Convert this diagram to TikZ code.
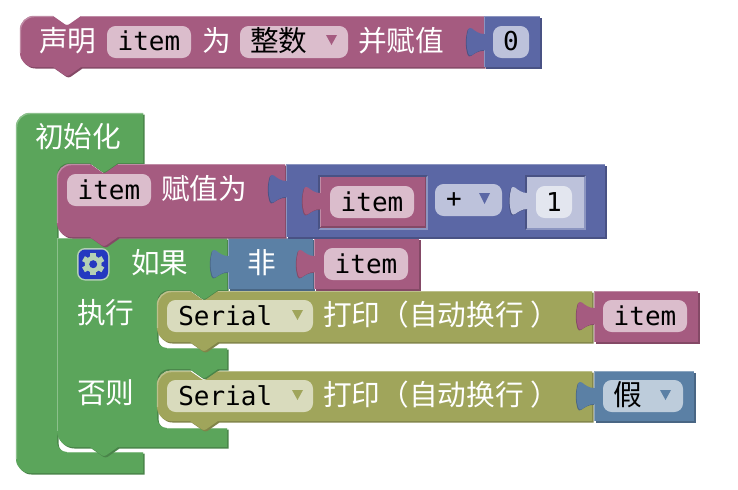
\documentclass[tikz,border=0pt]{standalone}
\usepackage{fontspec}
\setmainfont{Noto Sans CJK SC}
\newfontfamily\parenfont{Noto Sans CJK TC}
\newfontfamily\monofont{DejaVu Sans Mono}
\definecolor{mgB}{HTML}{A55B80}\definecolor{mgD}{HTML}{844966}\definecolor{mgL}{HTML}{C08CA6}\definecolor{mgF}{HTML}{DBBDCC}
\definecolor{blB}{HTML}{5B67A5}\definecolor{blD}{HTML}{495284}\definecolor{blL}{HTML}{8C95C0}\definecolor{blF}{HTML}{BDC2DB}\definecolor{blX}{HTML}{E3E6EF}
\definecolor{grB}{HTML}{5BA55B}\definecolor{grD}{HTML}{498449}\definecolor{grL}{HTML}{8CC08C}
\definecolor{olB}{HTML}{A0A55B}\definecolor{olD}{HTML}{808449}\definecolor{olL}{HTML}{BDC08C}\definecolor{olF}{HTML}{D9DBBD}
\definecolor{stB}{HTML}{5B80A5}\definecolor{stD}{HTML}{496684}\definecolor{stL}{HTML}{8CA6C0}\definecolor{stF}{HTML}{BDCCDB}
\definecolor{btn}{HTML}{2438C0}\definecolor{gearc}{HTML}{B4D0B4}
\newcommand\cjkfs{\fontsize{21.5}{21.5}\selectfont}
\newcommand\monofs{\monofont\fontsize{19.5}{19.5}\selectfont}
\tikzset{
  wlabel/.style={text=white,font=\cjkfs,anchor=west,inner sep=0pt},
  fieldtext/.style={text=black,font=\monofs,inner sep=0pt},
  cjkfield/.style={text=black,font=\cjkfs,anchor=west,inner sep=0pt},
  hl/.style={line width=1.1pt},
}
\newcommand\crn[6]{.. controls ({(#1)*.45+(#3)*.55},{(#2)*.45+(#4)*.55}) and ({(#5)*.45+(#3)*.55},{(#6)*.45+(#4)*.55}) .. (#5,#6)}
\newcommand\ntop[2]{-- (#1,#2) -- (#1+10,#2+7) .. controls (#1+13,#2+9.5) and (#1+15,#2+9.5) .. (#1+18,#2+7) -- (#1+28,#2)}
\newcommand\nbot[2]{-- (#1+28,#2) -- (#1+18,#2+7) .. controls (#1+15,#2+9.5) and (#1+13,#2+9.5) .. (#1+10,#2+7) -- (#1,#2)}
\newcommand\blk[3]{\fill[#2,shift={(1.5,1.5)}] #3; \fill[#1] #3;}
\newcommand\stmt[5]{%
  \blk{#1B}{#1D}{(#2,#4+14) \crn{#2}{#4+14}{#2}{#4}{#2+14}{#4} \ntop{#2+33}{#4} -- (#3,#4) -- (#3,#5) \nbot{#2+33}{#5} -- (#2+14,#5) \crn{#2+14}{#5}{#2}{#5}{#2}{#5-14} -- cycle}
  \draw[#1L,hl] (#2+.5,#5-14) -- (#2+.5,#4+14) \crn{#2+.5}{#4+14}{#2+.5}{#4+.5}{#2+14}{#4+.5} -- (#2+33,#4+.5);
  \draw[#1L,hl] (#2+61,#4+.5) -- (#3,#4+.5);
}
\newcommand\valb[5]{%
  \blk{#1B}{#1D}{(#2,#4) rectangle (#3,#5)}
  \draw[#1L,hl] (#2+.5,#5) -- (#2+.5,#4+.5) -- (#3,#4+.5);
}
\newcommand\tabp[2]{(#1+1,#2+6) -- (#1,#2+6) .. controls (#1-5,#2+6) and (#1-9,#2+3) .. (#1-12,#2+.5) .. controls (#1-14,#2-.5) and (#1-15,#2) .. (#1-15.5,#2+1) .. controls (#1-18,#2+9) and (#1-18,#2+19) .. (#1-15.5,#2+26) .. controls (#1-15,#2+28) and (#1-13.5,#2+28) .. (#1-12,#2+27) .. controls (#1-9,#2+25) and (#1-5,#2+22) .. (#1,#2+22) -- (#1+1,#2+22) -- cycle}
\newcommand\tabb[4]{\fill[#2,shift={(-.8,.8)}] \tabp{#3}{#4}; \fill[#1] \tabp{#3}{#4};}
\newcommand\field[5]{\fill[#1,rounded corners=6.5pt] (#2,#4) rectangle (#3,#5);}
\newcommand\tri[4]{\fill[#1] (#2,#3) -- (#2+11,#3) -- (#2+5.5,#4) -- cycle;}
\newcommand\printtext{打印{\parenfont （}自动换行\hspace{5pt}{\parenfont ）}}
\begin{document}
\begin{tikzpicture}[x=.75pt,y=-.75pt]
\useasboundingbox (0,0) rectangle (738,489);
\fill[white] (0,0) rectangle (738,489);
% --- top row
\stmt{mg}{20}{484}{16}{67}
\valb{bl}{484}{540}{16}{67}
\tabb{blB}{blD}{484}{28}
\field{mgF}{107}{191}{26}{58}{}
\node[fieldtext] (t1) at (149,41) {item};
\node[wlabel] (t2) at (39,41) {声明};
\node[wlabel] (t3) at (202,41) {为};
\field{mgF}{240}{348}{26}{58}{}
\node[cjkfield] (t4) at (250,41) {整数};
\tri{mgB}{326}{35}{45}
\node[wlabel] (t5) at (358,41) {并赋值};
\field{blF}{493}{529}{26}{58}{}
\node[fieldtext] (t6) at (511,41) {0};
% --- outer green block
\blk{grB}{grD}{(16,127) \crn{16}{127}{16}{113}{30}{113} -- (143,113) -- (143,163) \nbot{90}{163} -- (69,163) \crn{69}{163}{57}{163}{57}{175} -- (57,442) \crn{57}{442}{57}{452}{67}{452} -- (143,452) -- (143,473) -- (30,473) \crn{30}{473}{16}{473}{16}{459} -- cycle}
\draw[grL,hl] (16.5,459) -- (16.5,127) \crn{16.5}{127}{16.5}{113.5}{30}{113.5} -- (143,113.5);
\draw[grL,hl] (67,452.5) -- (143,452.5);
\node[wlabel] (t7) at (35,136.5) {初始化};
% --- inner green block
\blk{grB}{grD}{(57,238) -- (227,238) -- (227,290) \nbot{190}{290} -- (169,290) \crn{169}{290}{157}{290}{157}{302} -- (157,338) \crn{157}{338}{157}{348}{167}{348} -- (227,348) -- (227,369) \nbot{190}{369} -- (169,369) \crn{169}{369}{157}{369}{157}{381} -- (157,418) \crn{157}{418}{157}{428}{167}{428} -- (227,428) -- (227,447) \nbot{90}{447} -- (73,447) \crn{73}{447}{57}{447}{57}{431} -- cycle}
\draw[grL,hl] (57.6,431) -- (57.6,238.5) -- (227,238.5);
\draw[grL,hl] (167,348.5) -- (227,348.5);
\draw[grL,hl] (167,428.5) -- (227,428.5);
% gear button
\fill[gearc,rounded corners=6pt] (77,248) rectangle (109.5,280.5);
\fill[btn,rounded corners=5pt] (78.5,249.5) rectangle (108,279);
\foreach \a in {0,60,...,300}{\fill[gearc,rotate around={\a:(93.2,264.2)}] (90.4,253) rectangle (96,259);}
\fill[gearc] (93.2,264.2) circle[radius=8.4];
\fill[btn] (93.2,264.2) circle[radius=4];
\node[wlabel] (t8) at (131,263) {如果};
\node[wlabel] (t9) at (77,312.5) {执行};
\node[wlabel] (t10) at (77,392.5) {否则};
% --- 非 + item
\valb{st}{228}{313}{238}{289}
\tabb{stB}{stD}{228}{250}
\node[wlabel,anchor=center] (t11) at (261.5,263) {非};
\valb{mg}{314}{419}{238}{289}
\tabb{mgB}{mgD}{314}{250}
\field{mgF}{324}{408}{248}{280}{}
\node[fieldtext] (t12) at (366,264) {item};
% --- first Serial
\stmt{ol}{157}{592}{291}{342}
\field{olF}{167}{313}{300}{332}{}
\node[fieldtext,anchor=west] (t13) at (178,316) {Serial};
\tri{olB}{292}{310}{320}
\node[wlabel] (t14) at (323,315) {\printtext};
\valb{mg}{594}{698}{291}{342}
\tabb{mgB}{mgD}{594}{302}
\field{mgF}{603}{687}{300}{332}{}
\node[fieldtext] (t15) at (645,316) {item};
% --- second Serial
\stmt{ol}{157}{592}{371}{421}
\field{olF}{167}{313}{380}{412}{}
\node[fieldtext,anchor=west] (t16) at (178,396) {Serial};
\tri{olB}{292}{390}{400}
\node[wlabel] (t17) at (323,395) {\printtext};
\valb{st}{594}{694}{371}{421}
\tabb{stB}{stD}{594}{382}
\field{stF}{603}{683}{380}{412}{}
\node[cjkfield] (t18) at (613,395) {假};
\tri{stB}{660}{390}{400}
% --- assignment block
\stmt{mg}{57}{285}{164}{237}
\field{mgF}{67}{151}{174}{206}{}
\node[fieldtext] (t19) at (109,190) {item};
\node[wlabel] (t20) at (161,189) {赋值为};
\valb{bl}{286}{605}{164}{237}
\tabb{blB}{blD}{286}{175}
\fill[blL] (318,175) rectangle (428,230);
\fill[blD] (318,175) -- (428,175) -- (426,177) -- (320,177) -- (320,228) -- (318,230) -- cycle;
\fill[mgB] (320,177) rectangle (425.5,227);
\fill[mgD] (320,226) rectangle (425.5,227.5);
\fill[mgD] (424.5,177) rectangle (426,227.5);
\fill[mgL] (320,177) rectangle (321,227);
\tabb{mgB}{mgD}{320}{187}
\field{mgF}{330}{414}{186}{218}{}
\node[fieldtext] (t21) at (372,202) {item};
\field{blF}{435}{502}{184}{216}{}
\node[fieldtext] (t22) at (454,200) {+};
\tri{blB}{479}{193}{204}
\fill[blL] (525,175) rectangle (586,230);
\fill[blD] (525,175) -- (586,175) -- (584,177) -- (527,177) -- (527,228) -- (525,230) -- cycle;
\fill[blF] (527,177) rectangle (584,228);
\tabb{blF}{blD}{527}{187}
\field{blX}{536}{572}{186}{218}{}
\node[fieldtext] (t23) at (554,202) {1};
\end{tikzpicture}
\end{document}
